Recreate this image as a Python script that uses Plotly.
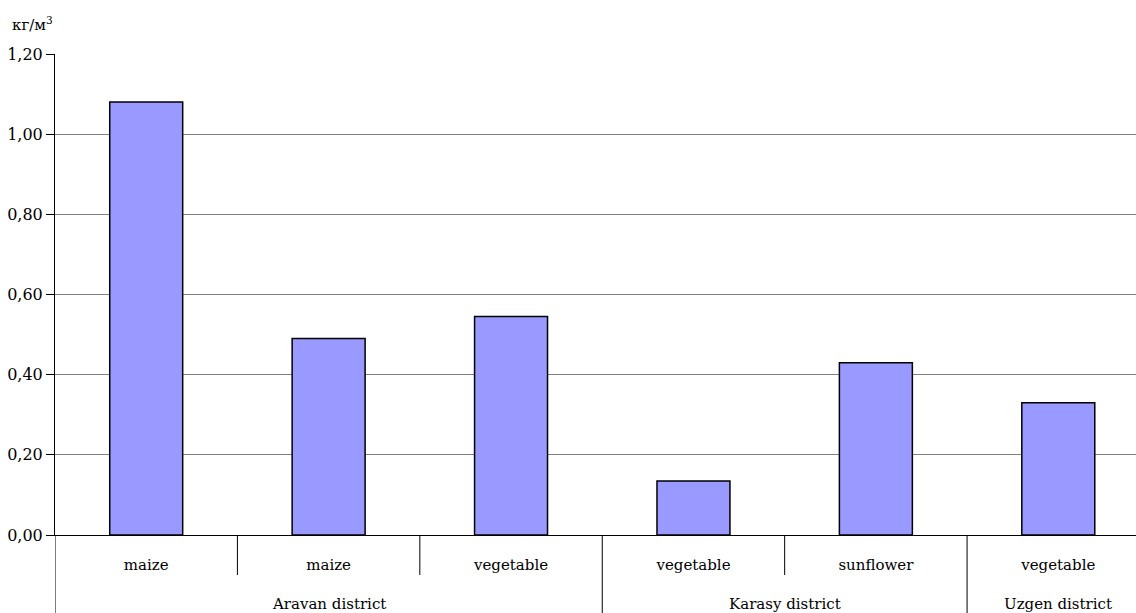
import plotly.graph_objects as go

# Water productivity by crop and district
districts = ["Aravan district", "Karasy district", "Uzgen district"]
district_sizes = [3, 2, 1]
crops = ["maize", "maize", "vegetable", "vegetable", "sunflower", "vegetable"]
values = [1.08, 0.49, 0.545, 0.135, 0.43, 0.33]
y_ticks = [0, 0.2, 0.4, 0.6, 0.8, 1.0, 1.2]
unit_label = "кг/м<sup>3</sup>"

FONT = "DejaVu Serif"
W, H = 1136, 613
M_L, M_R, M_T, M_B = 55, 0, 54, 78
plot_h = H - M_T - M_B

x_pos = list(range(len(crops)))

fig = go.Figure(
    go.Bar(
        x=x_pos,
        y=values,
        width=0.4,
        marker=dict(color="#9999FF", line=dict(color="#000000", width=1.5)),
        hoverinfo="y",
    )
)

# separators below the category axis: short ticks between crops, long ones between districts
group_edges = [0]
for n in district_sizes:
    group_edges.append(group_edges[-1] + n)
inner_len = -40 / plot_h
outer_len = -(M_B + 2) / plot_h
shapes = []
for b in range(len(crops)):
    y1 = outer_len if b in group_edges else inner_len
    shapes.append(dict(type="line", xref="x", yref="paper", x0=b - 0.5, x1=b - 0.5,
                       y0=0, y1=y1, line=dict(color="#000000", width=1)))

annotations = []
for name, start, n in zip(districts, group_edges[:-1], district_sizes):
    annotations.append(dict(
        x=start + (n - 1) / 2, xref="x", y=-69 / plot_h, yref="paper",
        text=name, showarrow=False, xanchor="center", yanchor="middle",
        font=dict(family=FONT, size=15, color="#000000"),
    ))
annotations.append(dict(
    x=-45 / (W - M_L - M_R), xref="paper", y=1 + 30 / plot_h, yref="paper",
    text=unit_label, showarrow=False, xanchor="left", yanchor="middle",
    font=dict(family=FONT, size=15, color="#000000"),
))

fig.update_layout(
    width=W, height=H,
    margin=dict(l=M_L, r=M_R, t=M_T, b=M_B),
    paper_bgcolor="white", plot_bgcolor="white",
    separators=", ",
    font=dict(family=FONT, size=15, color="#000000"),
    showlegend=False,
    shapes=shapes,
    annotations=annotations,
    xaxis=dict(
        range=[-0.5, 5.5 - 13.5 / 182.4],
        tickmode="array", tickvals=x_pos, ticktext=crops,
        showgrid=False, zeroline=False, showline=True,
        linecolor="#000000", linewidth=1, ticks="",
        ticklabelstandoff=16,
        tickfont=dict(family=FONT, size=15, color="#000000"),
        fixedrange=True,
    ),
    yaxis=dict(
        range=[0, 1.2], tickmode="array", tickvals=y_ticks, tickformat=".2f",
        showgrid=True, gridcolor="#808080", gridwidth=1,
        zeroline=False, showline=True, linecolor="#000000", linewidth=1,
        ticks="outside", ticklen=8, tickcolor="#000000", tickwidth=1,
        tickfont=dict(family=FONT, size=16, color="#000000"),
        fixedrange=True,
    ),
)

fig.write_html("out.html", config={"displayModeBar": False})
